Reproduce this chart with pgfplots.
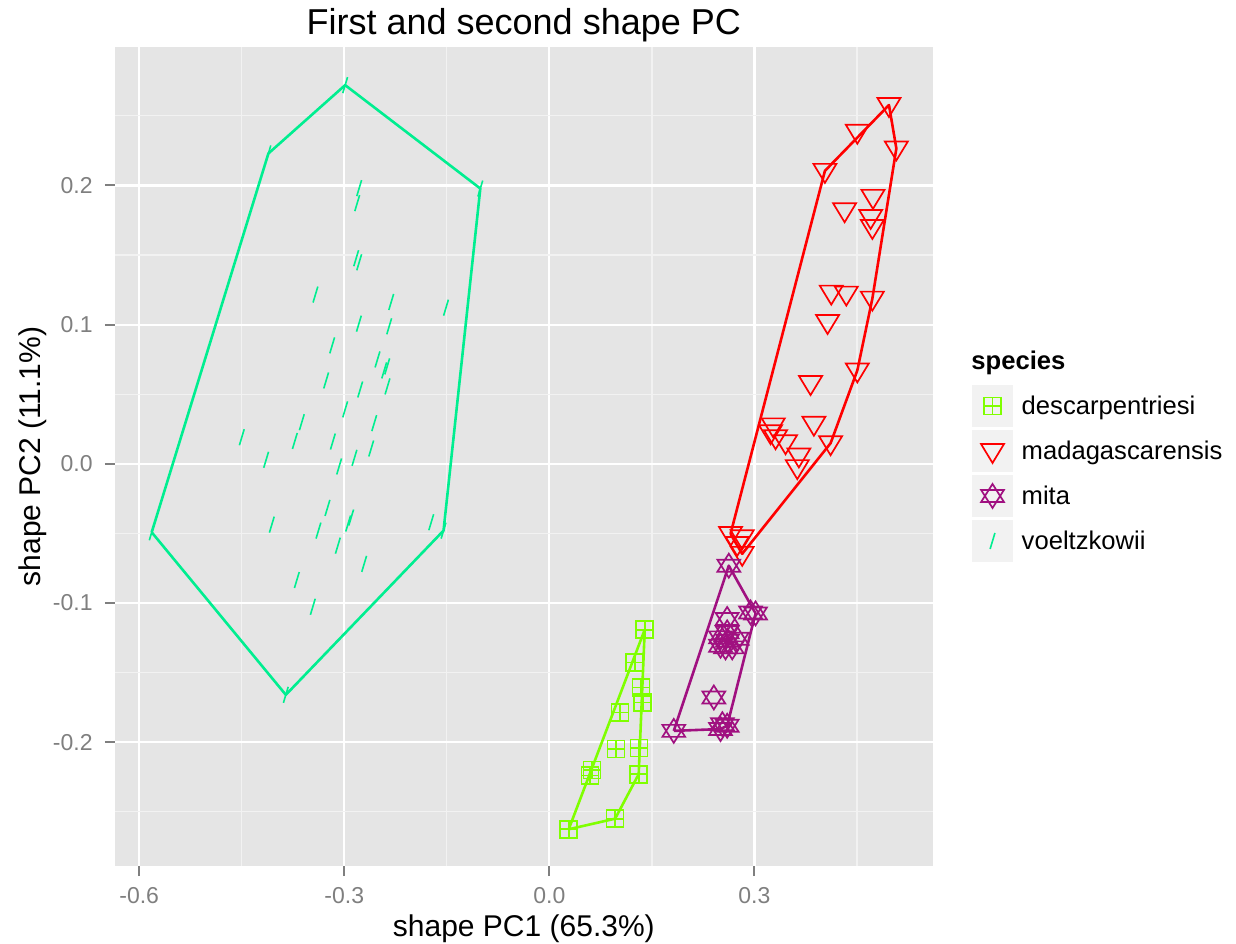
\documentclass[border=0pt]{standalone}
\usepackage{fontspec}
\setmainfont{Liberation Sans}
\usepackage{pgfplots}
\pgfplotsset{compat=1.18}
\usetikzlibrary{plotmarks}

\definecolor{panelbg}{RGB}{229,229,229}
\definecolor{gridminor}{RGB}{242,242,242}
\definecolor{tickgray}{RGB}{127,127,127}
\definecolor{keybg}{RGB}{242,242,242}
\definecolor{cdesc}{RGB}{127,255,0}
\definecolor{cmada}{RGB}{255,0,0}
\definecolor{cmita}{RGB}{160,16,128}
\definecolor{cvoel}{RGB}{0,238,144}

\pgfdeclareplotmark{boxplus}{%
  \pgfpathrectangle{\pgfpoint{-\pgfplotmarksize}{-\pgfplotmarksize}}{\pgfpoint{2\pgfplotmarksize}{2\pgfplotmarksize}}%
  \pgfpathmoveto{\pgfpoint{-\pgfplotmarksize}{0pt}}\pgfpathlineto{\pgfpoint{\pgfplotmarksize}{0pt}}%
  \pgfpathmoveto{\pgfpoint{0pt}{-\pgfplotmarksize}}\pgfpathlineto{\pgfpoint{0pt}{\pgfplotmarksize}}%
  \pgfusepathqstroke}
\pgfdeclareplotmark{tridown}{%
  \pgfpathmoveto{\pgfpoint{-1.15\pgfplotmarksize}{0.7\pgfplotmarksize}}%
  \pgfpathlineto{\pgfpoint{1.15\pgfplotmarksize}{0.7\pgfplotmarksize}}%
  \pgfpathlineto{\pgfpoint{0pt}{-1.2\pgfplotmarksize}}%
  \pgfpathclose\pgfusepathqstroke}
\pgfdeclareplotmark{davidstar}{%
  \pgfpathmoveto{\pgfpoint{0pt}{\pgfplotmarksize}}%
  \pgfpathlineto{\pgfpoint{-0.95\pgfplotmarksize}{-0.5\pgfplotmarksize}}%
  \pgfpathlineto{\pgfpoint{0.95\pgfplotmarksize}{-0.5\pgfplotmarksize}}%
  \pgfpathclose
  \pgfpathmoveto{\pgfpoint{0pt}{-\pgfplotmarksize}}%
  \pgfpathlineto{\pgfpoint{-0.95\pgfplotmarksize}{0.5\pgfplotmarksize}}%
  \pgfpathlineto{\pgfpoint{0.95\pgfplotmarksize}{0.5\pgfplotmarksize}}%
  \pgfpathclose\pgfusepathqstroke}
\pgfdeclareplotmark{slash}{%
  \pgfpathmoveto{\pgfpoint{-0.3\pgfplotmarksize}{-\pgfplotmarksize}}%
  \pgfpathlineto{\pgfpoint{0.3\pgfplotmarksize}{\pgfplotmarksize}}%
  \pgfusepathqstroke}

\pgfplotstableread{
x y
0.1395 -0.1192
0.1249 -0.1427
0.1342 -0.1607
0.1366 -0.1715
0.1035 -0.1787
0.0976 -0.2050
0.1313 -0.2041
0.0625 -0.2200
0.0595 -0.2240
0.1307 -0.2230
0.0962 -0.2550
0.0283 -0.2626
}\desc
\pgfplotstableread{
x y
0.0283 -0.2626
0.1395 -0.1192
0.1307 -0.2230
0.0962 -0.2550
0.0283 -0.2626
}\deschull

\pgfplotstableread{
x y
0.4968 0.2578
0.4505 0.2386
0.5076 0.2266
0.4031 0.2105
0.4734 0.1918
0.4319 0.1822
0.4700 0.1774
0.4725 0.1702
0.4124 0.1230
0.4344 0.1223
0.4725 0.1187
0.4070 0.1019
0.4505 0.0671
0.3821 0.0580
0.3870 0.0288
0.3275 0.0276
0.3236 0.0227
0.3309 0.0191
0.3455 0.0155
0.4114 0.0148
0.3650 0.0060
0.3627 -0.0024
0.2650 -0.0504
0.2821 -0.0528
0.2748 -0.0576
0.2821 -0.0647
}\mada
\pgfplotstableread{
x y
0.2650 -0.0504
0.4031 0.2105
0.4968 0.2578
0.5076 0.2266
0.4725 0.1187
0.4505 0.0671
0.4114 0.0148
0.2821 -0.0647
0.2650 -0.0504
}\madahull

\pgfplotstableread{
x y
0.2625 -0.0732
0.3016 -0.1075
0.2943 -0.1068
0.2601 -0.1115
0.2601 -0.1211
0.2504 -0.1247
0.2606 -0.1271
0.2748 -0.1257
0.2577 -0.1319
0.2675 -0.1319
0.2504 -0.1307
0.2406 -0.1679
0.1820 -0.1919
0.2531 -0.1871
0.2504 -0.1906
0.2601 -0.1882
}\mita
\pgfplotstableread{
x y
0.1820 -0.1919
0.2625 -0.0732
0.3016 -0.1075
0.2601 -0.1882
0.2504 -0.1906
0.1820 -0.1919
}\mitahull

\pgfplotstableread{
x y
-0.5817 -0.0492
-0.4110 0.2230
-0.2987 0.2721
-0.1010 0.1978
-0.1548 -0.0480
-0.3855 -0.1660
-0.2782 0.1981
-0.2811 0.1873
-0.2826 0.1477
-0.2782 0.1448
-0.3422 0.1216
-0.2313 0.1163
-0.1512 0.1122
-0.2786 0.1007
-0.2343 0.0988
-0.3177 0.0851
-0.2514 0.0750
-0.2416 0.0671
-0.2372 0.0700
-0.2368 0.0556
-0.3265 0.0599
-0.2767 0.0534
-0.2987 0.0391
-0.3621 0.0299
-0.2562 0.0292
-0.4499 0.0191
-0.3723 0.0164
-0.3167 0.0160
-0.2606 0.0110
-0.4143 0.0029
-0.3075 -0.0019
-0.2851 0.0043
-0.3246 -0.0317
-0.4060 -0.0437
-0.3378 -0.0480
-0.2899 -0.0386
-0.2943 -0.0429
-0.1728 -0.0420
-0.3094 -0.0588
-0.2709 -0.0719
-0.3694 -0.0835
-0.3460 -0.1027
}\voel
\pgfplotstableread{
x y
-0.5817 -0.0492
-0.4110 0.2230
-0.2987 0.2721
-0.1010 0.1978
-0.1548 -0.0480
-0.3855 -0.1660
-0.5817 -0.0492
}\voelhull

\begin{document}
\begin{tikzpicture}
\useasboundingbox (0,0) rectangle (618pt,471.5pt);
\begin{axis}[
  name=ax,
  at={(57.5pt,38.5pt)}, anchor=south west,
  width=408.85pt, height=409.5pt, scale only axis,
  xmin=-0.6354, xmax=0.5608, ymin=-0.2890, ymax=0.2995,
  axis background/.style={fill=panelbg},
  axis line style={draw=none},
  xtick={-0.6,-0.3,0,0.3}, xticklabels={-0.6,-0.3,0.0,0.3},
  ytick={-0.2,-0.1,0,0.1,0.2}, yticklabels={-0.2,-0.1,0.0,0.1,0.2},
  minor xtick={-0.45,-0.15,0.15,0.45},
  minor ytick={-0.25,-0.15,-0.05,0.05,0.15,0.25},
  grid=both,
  major grid style={white, line width=1.1pt},
  minor grid style={gridminor, line width=0.6pt},
  tick align=outside, tick pos=left,
  major tick length=5pt, minor tick length=0pt,
  major tick style={tickgray, line width=1pt},
  ticklabel style={font=\fontsize{11.5}{13}\selectfont, text=tickgray, inner sep=0pt},
  xticklabel style={anchor=base, yshift=-13.5pt},
  yticklabel style={anchor=east, xshift=-6pt},
  xlabel={shape PC1 (65.3\%)},
  xlabel style={at={(axis description cs:0.5,-0.0855)}, anchor=base, font=\fontsize{15}{17}\selectfont, inner sep=0pt},
  ylabel={shape PC2 (11.1\%)},
  ylabel style={at={(axis description cs:-0.0911,0.5)}, anchor=base, rotate=0, font=\fontsize{15}{17}\selectfont, inner sep=0pt},
  legend style={at={(1.0477,0.5871)}, anchor=north west, draw=none, fill=none,
    inner sep=0pt, outer sep=0pt, row sep=1.7pt, column sep=0pt,
    font=\fontsize{12.8}{14}\selectfont, nodes={inner sep=0pt, anchor=base west}},
  legend cell align=left,
  legend image code/.code={%
    \fill[keybg, draw=none] (0pt,-5.9pt) rectangle (20.8pt,14.9pt);
    \path[draw=none, fill=none] (0pt,0pt) -- (25pt,0pt);
    \draw[mark repeat=2,mark phase=2] plot coordinates {(0pt,4.5pt) (10.4pt,4.5pt) (20.8pt,4.5pt)};},
]
\addplot[cdesc, line width=1.3pt, line join=round, forget plot] table {\deschull};
\addplot[cmada, line width=1.3pt, line join=round, forget plot] table {\madahull};
\addplot[cmita, line width=1.3pt, line join=round, forget plot] table {\mitahull};
\addplot[cvoel, line width=1.3pt, line join=round, forget plot] table {\voelhull};

\addplot[cdesc, only marks, mark=boxplus, mark size=4.25pt, mark options={line width=0.85pt}] table {\desc};
\addlegendentry{descarpentriesi}
\addplot[cmada, only marks, mark=tridown, mark size=5pt, mark options={line width=0.85pt}] table {\mada};
\addlegendentry{madagascarensis}
\addplot[cmita, only marks, mark=davidstar, mark size=6pt, mark options={line width=0.85pt}] table {\mita};
\addlegendentry{mita}
\addplot[cvoel, only marks, mark=slash, mark size=4pt, mark options={line width=0.8pt}] table {\voel};
\addlegendentry{voeltzkowii}
\end{axis}
\node[anchor=base, inner sep=0pt, font=\fontsize{18}{20}\selectfont] at (261.9pt,454pt) {First and second shape PC};
\node[anchor=base west, inner sep=0pt, font=\bfseries\fontsize{12.8}{14}\selectfont] at (485.5pt,286.5pt) {species};
\end{tikzpicture}
\end{document}
